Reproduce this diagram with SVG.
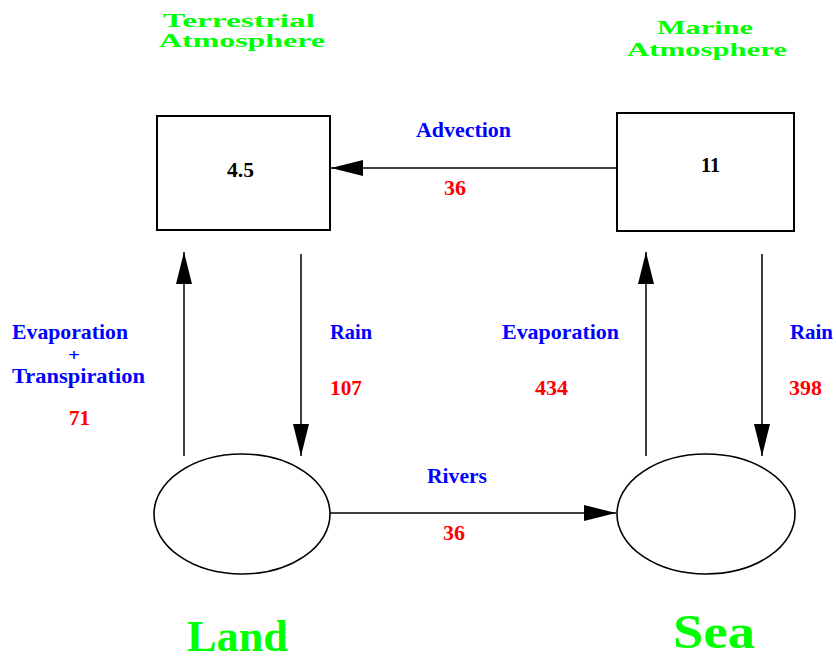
<svg xmlns="http://www.w3.org/2000/svg" width="836" height="661" viewBox="0 0 836 661">
<style>
text{font-family:"Liberation Serif","Times New Roman",serif;font-weight:bold}
.g{fill:#00ff00}.b{fill:#0000ff}.r{fill:#ff0000}.k{fill:#000}
.box{fill:#fff;stroke:#000;stroke-width:2}
.ell{fill:#fff;stroke:#000;stroke-width:1.6}
.ln{stroke:#000;stroke-width:1.5;fill:none;marker-end:url(#ah)}
</style>
<defs>
<marker id="ah" markerUnits="userSpaceOnUse" markerWidth="34" markerHeight="18" refX="32" refY="8" orient="auto">
<path d="M0,0 L32,8 L0,16 z" fill="#000"/>
</marker>
</defs>
<rect width="836" height="661" fill="#fff"/>
<g id="terrestrial">
<rect class="box" x="157" y="116" width="173" height="114"/>
<text class="k" x="227" y="177" font-size="22" textLength="27" lengthAdjust="spacingAndGlyphs">4.5</text>
<text class="g" x="163" y="27" font-size="19" textLength="152" lengthAdjust="spacingAndGlyphs">Terrestrial</text>
<text class="g" x="159" y="47" font-size="19" textLength="166" lengthAdjust="spacingAndGlyphs">Atmosphere</text>
</g>
<g id="marine">
<rect class="box" x="617" y="113" width="177" height="118"/>
<text class="k" x="701" y="172" font-size="22" textLength="19" lengthAdjust="spacingAndGlyphs">11</text>
<text class="g" x="657" y="34" font-size="19" textLength="96" lengthAdjust="spacingAndGlyphs">Marine</text>
<text class="g" x="627" y="56" font-size="19" textLength="160" lengthAdjust="spacingAndGlyphs">Atmosphere</text>
</g>
<g id="land">
<ellipse class="ell" cx="242" cy="514" rx="88" ry="60"/>
<text class="g" x="187" y="651" font-size="44" textLength="101" lengthAdjust="spacingAndGlyphs">Land</text>
</g>
<g id="sea">
<ellipse class="ell" cx="706" cy="514" rx="89" ry="60"/>
<text class="g" x="673" y="648" font-size="48" textLength="82" lengthAdjust="spacingAndGlyphs">Sea</text>
</g>
<g id="connectors">
<line class="ln" x1="617" y1="168" x2="331" y2="168"/>
<line class="ln" x1="184" y1="456" x2="184" y2="252"/>
<line class="ln" x1="301" y1="254" x2="301" y2="456"/>
<line class="ln" x1="646" y1="456" x2="646" y2="252"/>
<line class="ln" x1="762" y1="254" x2="762" y2="456"/>
<line class="ln" x1="330" y1="513" x2="616" y2="513"/>
</g>
<g id="labels">
<text class="b" x="416" y="137" font-size="21" textLength="95" lengthAdjust="spacingAndGlyphs">Advection</text>
<text class="r" x="444" y="195" font-size="22" textLength="22" lengthAdjust="spacingAndGlyphs">36</text>
<text class="b" x="12" y="339" font-size="21" textLength="116" lengthAdjust="spacingAndGlyphs">Evaporation</text>
<text class="b" x="74" y="361" font-size="16" text-anchor="middle" textLength="12" lengthAdjust="spacingAndGlyphs">+</text>
<text class="b" x="12" y="383" font-size="21" textLength="133" lengthAdjust="spacingAndGlyphs">Transpiration</text>
<text class="r" x="69" y="425" font-size="22" textLength="21" lengthAdjust="spacingAndGlyphs">71</text>
<text class="b" x="330" y="339" font-size="21" textLength="42" lengthAdjust="spacingAndGlyphs">Rain</text>
<text class="r" x="330" y="395" font-size="22" textLength="32" lengthAdjust="spacingAndGlyphs">107</text>
<text class="b" x="502" y="339" font-size="21" textLength="117" lengthAdjust="spacingAndGlyphs">Evaporation</text>
<text class="r" x="535" y="395" font-size="22" textLength="33" lengthAdjust="spacingAndGlyphs">434</text>
<text class="b" x="790" y="339" font-size="21" textLength="43" lengthAdjust="spacingAndGlyphs">Rain</text>
<text class="r" x="789" y="395" font-size="22" textLength="33" lengthAdjust="spacingAndGlyphs">398</text>
<text class="b" x="427" y="483" font-size="21" textLength="60" lengthAdjust="spacingAndGlyphs">Rivers</text>
<text class="r" x="443" y="540" font-size="22" textLength="22" lengthAdjust="spacingAndGlyphs">36</text>
</g>
</svg>
